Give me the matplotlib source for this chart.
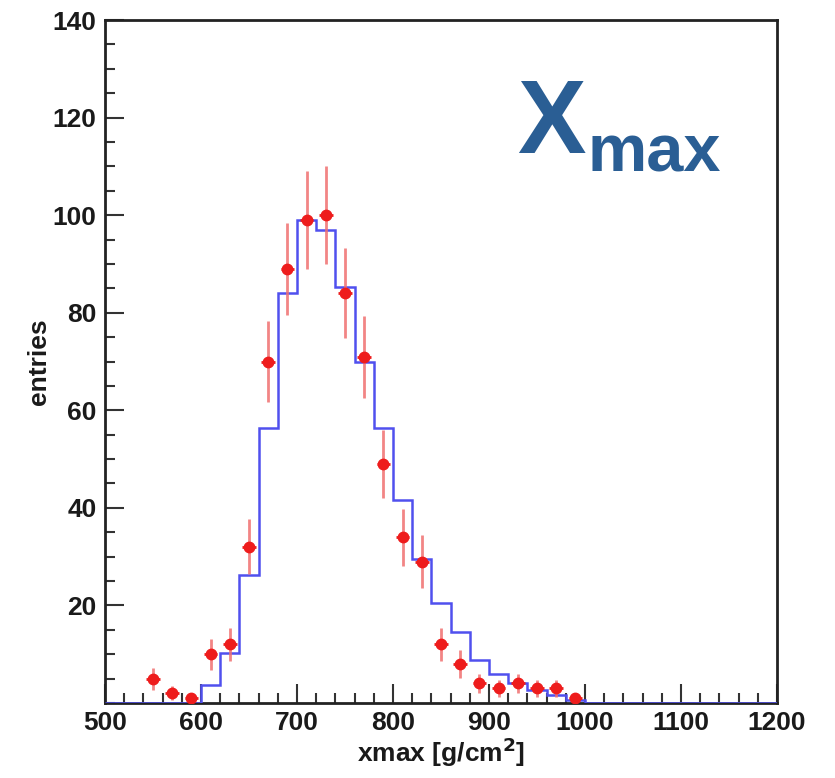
import numpy as np
import matplotlib
matplotlib.use("Agg")
import matplotlib.pyplot as plt
from matplotlib.ticker import MultipleLocator, FixedLocator

plt.rcParams['font.family'] = ['Liberation Sans', 'DejaVu Sans']

# Simulated Xmax distribution (histogram, 20 g/cm^2 bins from 500 to 1200)
bin_lo = 500
bin_width = 20
sim_counts = [0, 0, 0, 0, 0,
              3.7, 10.2, 26.2, 56.4, 84.0, 99.0, 97.0, 85.3, 70.0, 56.4,
              41.6, 29.5, 20.5, 14.5, 8.8, 5.9, 4.1, 2.7, 1.6, 0.6,
              0, 0, 0, 0, 0, 0, 0, 0, 0, 0]

# Measured entries at bin centres
data_x = [550, 570, 590, 610, 630, 650, 670, 690, 710, 730, 750, 770,
          790, 810, 830, 850, 870, 890, 910, 930, 950, 970, 990]
data_y = [5, 2, 1, 10, 12, 32, 70, 89, 99, 100, 84, 71,
          49, 34, 29, 12, 8, 4, 3, 4, 3, 3, 1]

x_ticks = [500, 600, 700, 800, 900, 1000, 1100, 1200]
y_ticks = [20, 40, 60, 80, 100, 120, 140]

fig = plt.figure(figsize=(8.35, 7.78), dpi=100)
ax = fig.add_axes([105 / 835, 1 - 703 / 778, 672 / 835, 683 / 778])

edges = bin_lo + bin_width * np.arange(len(sim_counts) + 1)
ax.stairs(sim_counts, edges, color='#5050ee', lw=1.8, zorder=4)

yerr = np.sqrt(np.array(data_y, dtype=float))
ax.errorbar(data_x, data_y, yerr=yerr, fmt='none', ecolor='#f07070',
            elinewidth=2.0, alpha=0.85, zorder=5)
ax.errorbar(data_x, data_y, xerr=7, fmt='o', color='#ee1c1c', ms=7.5,
            mec='#ee1c1c', elinewidth=2.0, zorder=6)

ax.set_xlim(500, 1200)
ax.set_ylim(0, 140)
ax.xaxis.set_major_locator(FixedLocator(x_ticks))
ax.xaxis.set_minor_locator(MultipleLocator(20))
ax.yaxis.set_major_locator(FixedLocator(y_ticks))
ax.yaxis.set_minor_locator(MultipleLocator(5))

ax.tick_params(which='both', direction='in', top=False, right=False,
               color='#333333', width=1.5, labelsize=19, labelcolor='#1a1a1a')
ax.tick_params(which='major', length=14, pad=6)
ax.tick_params(which='minor', length=7)
for lab in ax.get_xticklabels() + ax.get_yticklabels():
    lab.set_fontweight('bold')

for s in ax.spines.values():
    s.set_linewidth(2.0)
    s.set_color('#222222')

ax.set_xlabel('xmax [g/cm$^\\mathbf{2}$]', fontsize=19, fontweight='bold',
              color='#1a1a1a', labelpad=0)
ax.set_ylabel('entries', fontsize=19, fontweight='bold', color='#1a1a1a',
              labelpad=1)

blue = '#2a5e94'
fig.text(517 / 835, 1 - 153 / 778, 'X', fontsize=74, fontweight='bold',
         color=blue, ha='left', va='baseline')
fig.text(587 / 835, 1 - 171 / 778, 'max', fontsize=48, fontweight='bold',
         color=blue, ha='left', va='baseline')

fig.savefig('out.png', dpi=100)
